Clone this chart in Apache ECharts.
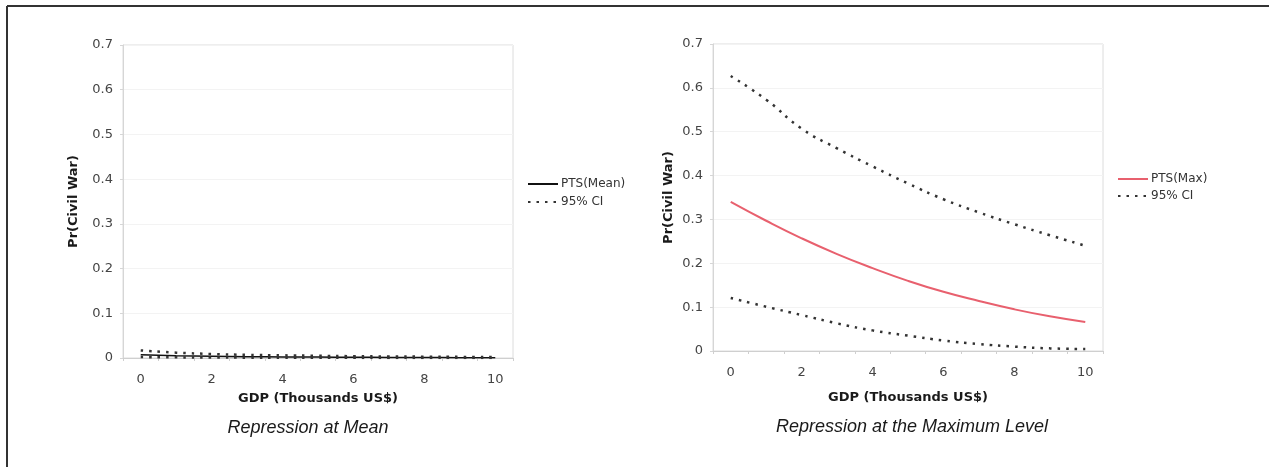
<!DOCTYPE html>
<html>
<head>
<meta charset="utf-8">
<script src="https://cdn.jsdelivr.net/npm/echarts@6/dist/echarts.min.js"></script>
<style>
html,body{margin:0;padding:0;background:#fff;}
#c{width:1269px;height:467px;}
</style>
</head>
<body>
<div id="c"></div>
<script>
// Data (GDP in thousands US$, categories 0..10)
const gdp = ['0','1','2','3','4','5','6','7','8','9','10'];
// Left panel: Repression at Mean
const meanPTS   = [0.007, 0.005, 0.004, 0.003, 0.0025, 0.002, 0.0016, 0.0013, 0.001, 0.0008, 0.0006];
const meanUpper = [0.017, 0.012, 0.009, 0.007, 0.006, 0.005, 0.004, 0.0035, 0.003, 0.0025, 0.002];
const meanLower = [0.002, 0.0015, 0.001, 0.0008, 0.0006, 0.0004, 0.0003, 0.0002, 0.0002, 0.0001, 0.0001];
// Right panel: Repression at the Maximum Level
const maxPTS   = [0.340, 0.297, 0.257, 0.221, 0.189, 0.160, 0.135, 0.114, 0.095, 0.079, 0.066];
const maxUpper = [0.627, 0.573, 0.507, 0.462, 0.421, 0.382, 0.346, 0.316, 0.289, 0.264, 0.240];
const maxLower = [0.121, 0.101, 0.082, 0.063, 0.047, 0.035, 0.024, 0.016, 0.010, 0.006, 0.0045];
const yTicks = [0, 0.1, 0.2, 0.3, 0.4, 0.5, 0.6, 0.7];

const FONT = 'DejaVu Sans';
const dotStyle = {color:'#333', width:2.5, type:[2.5,6], cap:'butt'};

function xAxis(gi, nameGap){
  return {
    type:'category', gridIndex:gi, data:gdp, boundaryGap:true,
    name:'GDP (Thousands US$)', nameLocation:'middle', nameGap:nameGap,
    nameTextStyle:{fontFamily:FONT, fontWeight:'bold', fontSize:13, color:'#1a1a1a'},
    axisLine:{lineStyle:{color:'#cfcfcf', width:1}},
    axisTick:{show:true, interval:0, length:3, lineStyle:{color:'#cfcfcf'}},
    axisLabel:{interval:1, margin:15, fontFamily:FONT, fontSize:13, color:'#444'},
    splitLine:{show:false}
  };
}
function yAxis(gi, nameGap){
  return {
    type:'value', gridIndex:gi, min:0, max:0.7, interval:0.1,
    name:'Pr(Civil War)', nameLocation:'middle', nameGap:nameGap, nameRotate:90,
    nameTextStyle:{fontFamily:FONT, fontWeight:'bold', fontSize:13, color:'#1a1a1a'},
    axisLine:{show:true, lineStyle:{color:'#d6d6d6'}},
    axisTick:{show:true, length:3, lineStyle:{color:'#d6d6d6'}},
    axisLabel:{margin:10, fontFamily:FONT, fontSize:13, color:'#444',
      formatter:v=>String(Math.round(v*10)/10)},
    splitLine:{show:true, lineStyle:{color:'#f3f3f3'}}
  };
}

const legendCommon = {
  orient:'vertical', itemWidth:30, itemHeight:8, selectedMode:false,
  itemStyle:{opacity:0},
  textStyle:{fontFamily:FONT, fontSize:12, color:'#333', padding:[0,0,0,-2]}
};

const chart = echarts.init(document.getElementById('c'), null, {renderer:'canvas'});
chart.setOption({
  animation:false,
  backgroundColor:'#fff',
  grid:[
    {left:123, top:45, width:390, height:313, show:true, borderColor:'#dcdcdc', borderWidth:1, backgroundColor:'#fff'},
    {left:713, top:44, width:390, height:307, show:true, borderColor:'#dcdcdc', borderWidth:1, backgroundColor:'#fff'}
  ],
  xAxis:[xAxis(0, 34), xAxis(1, 40)],
  yAxis:[yAxis(0, 43), yAxis(1, 38)],
  legend:[
    Object.assign({left:522, top:173, itemGap:6, data:['PTS(Mean)','95% CI']}, legendCommon),
    Object.assign({left:1112, top:168, itemGap:5, data:['PTS(Max)','95% CI']}, legendCommon)
  ],
  series:[
    {name:'PTS(Mean)', type:'line', xAxisIndex:0, yAxisIndex:0, data:meanPTS, smooth:true, symbol:'none',
     lineStyle:{color:'#111', width:1.5}, itemStyle:{color:'#111'}},
    {name:'95% CI', type:'line', xAxisIndex:0, yAxisIndex:0, data:meanUpper, smooth:true, symbol:'none',
     lineStyle:dotStyle, itemStyle:{color:'#333'}},
    {name:'95% CI', type:'line', xAxisIndex:0, yAxisIndex:0, data:meanLower, smooth:true, symbol:'none',
     lineStyle:dotStyle, itemStyle:{color:'#333'}},
    {name:'PTS(Max)', type:'line', xAxisIndex:1, yAxisIndex:1, data:maxPTS, smooth:true, symbol:'none',
     lineStyle:{color:'#e8606e', width:2}, itemStyle:{color:'#e8606e'}},
    {name:'95% CI', type:'line', xAxisIndex:1, yAxisIndex:1, data:maxUpper, smooth:true, symbol:'none',
     lineStyle:dotStyle, itemStyle:{color:'#333'}},
    {name:'95% CI', type:'line', xAxisIndex:1, yAxisIndex:1, data:maxLower, smooth:true, symbol:'none',
     lineStyle:dotStyle, itemStyle:{color:'#333'}}
  ],
  graphic:[
    {type:'line', shape:{x1:7, y1:6, x2:1269, y2:6}, style:{stroke:'#333', lineWidth:2}},
    {type:'line', shape:{x1:7, y1:6, x2:7, y2:467}, style:{stroke:'#333', lineWidth:2}},
    {type:'text', x:308, y:428, style:{text:'Repression at Mean', fontFamily:'Liberation Sans', fontStyle:'italic', fontSize:18, fill:'#1a1a1a', textAlign:'center', textVerticalAlign:'middle'}},
    {type:'text', x:912, y:427, style:{text:'Repression at the Maximum Level', fontFamily:'Liberation Sans', fontStyle:'italic', fontSize:18, fill:'#1a1a1a', textAlign:'center', textVerticalAlign:'middle'}}
  ]
});
</script>
</body>
</html>
